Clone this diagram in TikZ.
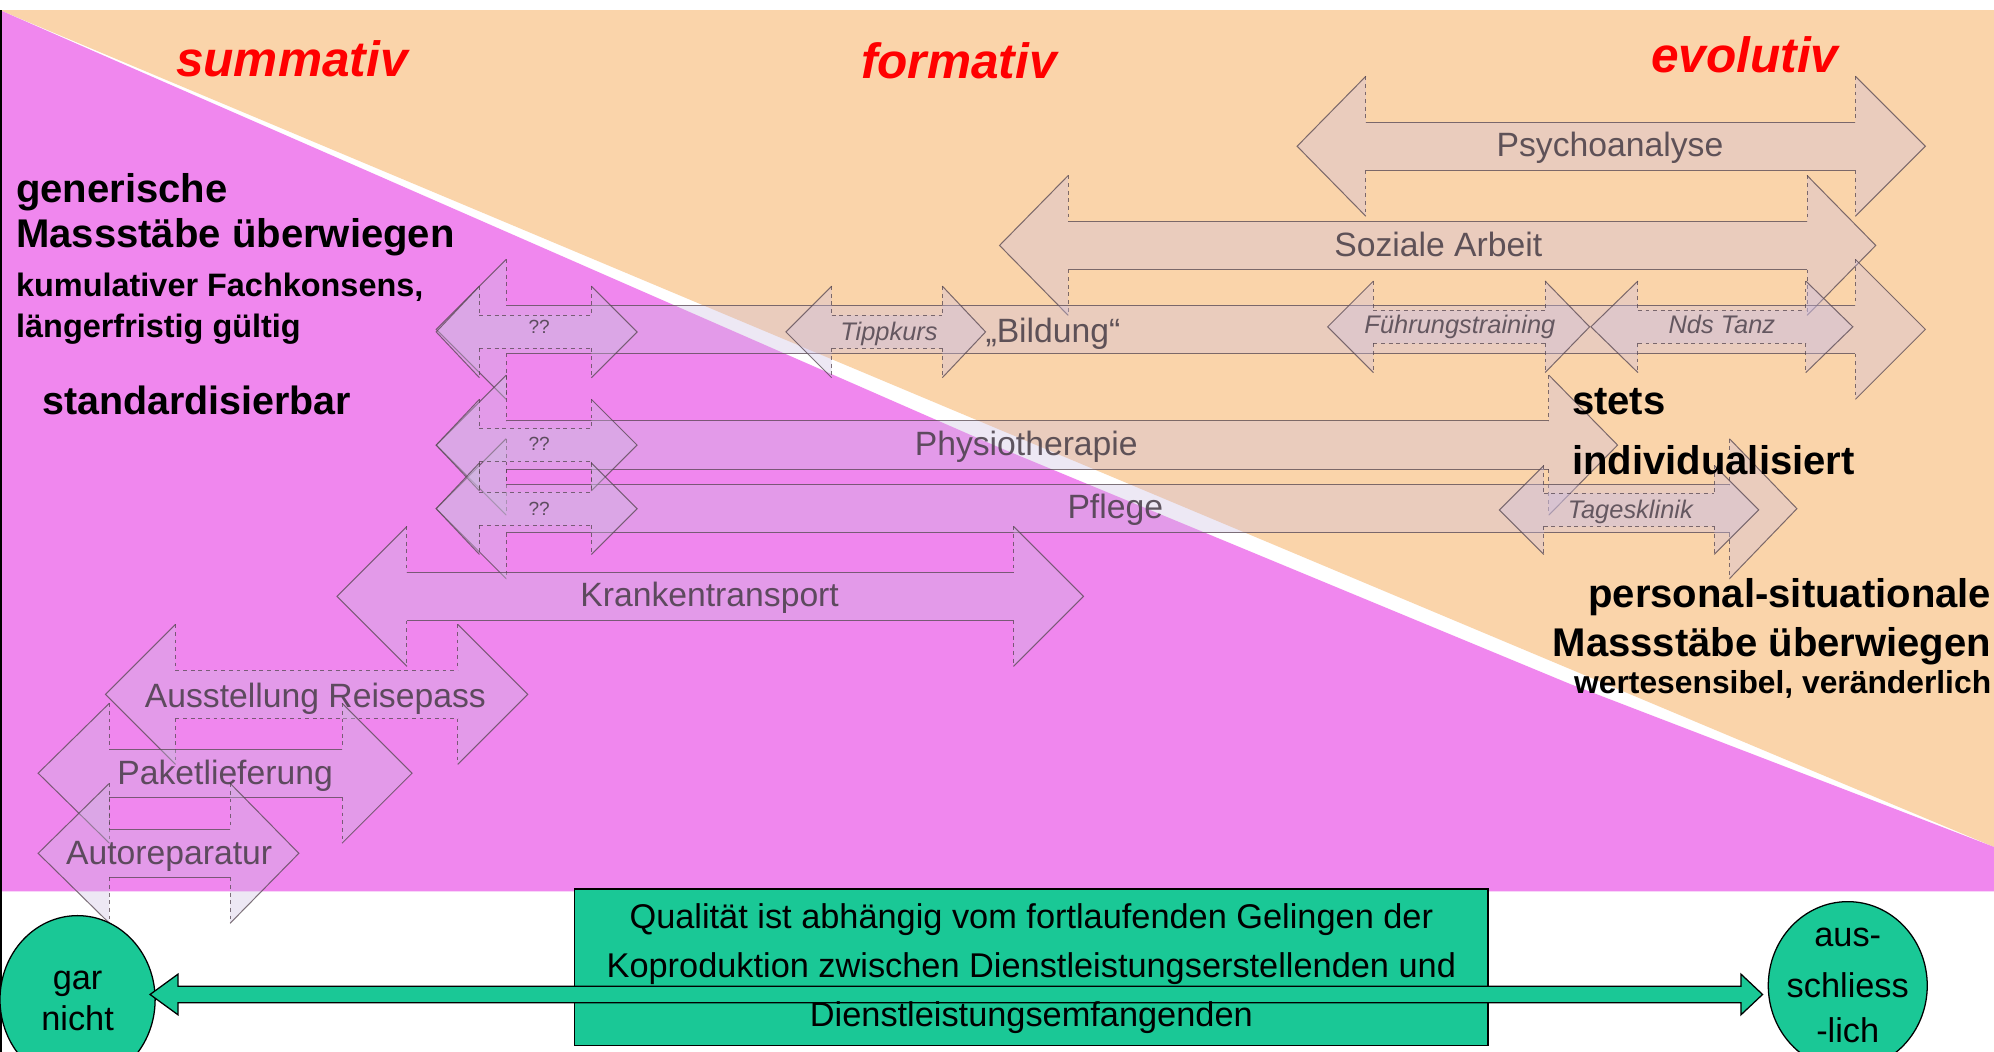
\documentclass[tikz,border=0pt]{standalone}
\usepackage{fontspec}
\setmainfont{Liberation Sans}
\usetikzlibrary{shapes.geometric}
\definecolor{peach}{RGB}{250,212,170}
\definecolor{pinkbg}{RGB}{240,135,238}
\definecolor{afillc}{RGB}{205,190,225}
\definecolor{alinec}{RGB}{85,70,80}
\definecolor{greenbox}{RGB}{26,200,150}
\definecolor{lblc}{RGB}{70,60,70}
% #1 left tip, #2 left head base, #3 right head base, #4 right tip, #5 centre y, #6 head half height, #7 shaft half height, #8 shaft line style
\newcommand\blockarr[8]{%
  \fill[afill] (#1,#5) -- (#2,#5-#6) -- (#2,#5-#7) -- (#3,#5-#7) -- (#3,#5-#6) -- (#4,#5)
     -- (#3,#5+#6) -- (#3,#5+#7) -- (#2,#5+#7) -- (#2,#5+#6) -- cycle;
  \draw[aline] (#2,#5-#6) -- (#1,#5) -- (#2,#5+#6);
  \draw[aline] (#3,#5-#6) -- (#4,#5) -- (#3,#5+#6);
  \draw[aline,#8] (#2,#5-#7) -- (#3,#5-#7) (#2,#5+#7) -- (#3,#5+#7);
  \draw[aline,dashed] (#2,#5-#6) -- (#2,#5-#7) (#2,#5+#7) -- (#2,#5+#6)
     (#3,#5-#6) -- (#3,#5-#7) (#3,#5+#7) -- (#3,#5+#6);
}
\tikzset{
  afill/.style={fill=afillc, fill opacity=0.35},
  aline/.style={draw=alinec, line width=0.8pt, draw opacity=0.75},
  lbl/.style={font=\fontsize{26.5}{30}\selectfont, text=lblc, text opacity=0.85, inner sep=0pt, anchor=base},
  slbl/.style={font=\itshape\fontsize{20}{24}\selectfont, text=lblc, text opacity=0.8, inner sep=0pt, anchor=base},
  qlbl/.style={font=\fontsize{15}{18}\selectfont, text=lblc, text opacity=0.85, inner sep=0pt},
  redt/.style={font=\bfseries\itshape\fontsize{39}{44}\selectfont, text=red, inner sep=0pt, anchor=base},
  bigt/.style={font=\bfseries\fontsize{31.5}{36}\selectfont, inner sep=0pt},
  midt/.style={font=\bfseries\fontsize{25.5}{30}\selectfont, inner sep=0pt},
  btxt/.style={font=\fontsize{27}{30}\selectfont, inner sep=0pt, anchor=base},
  oval/.style={ellipse, draw=black, line width=1pt, fill=greenbox, inner sep=0pt},
}
\begin{document}
\begin{tikzpicture}[x=1pt,y=-1pt]
\useasboundingbox (0,0) rectangle (1568,827);
\clip (0,0) rectangle (1568,827);
\fill[white] (0,0) rectangle (1568,827);
% background
\fill[peach] (0,8) -- (1568,8) -- (1568,666) -- cycle;
\fill[pinkbg] (0,8) -- (786,352) -- (1235,538) -- (1568,666) -- (1568,701) -- (0,701) -- cycle;
\draw[line width=1.5pt] (0.75,8) -- (0.75,827);

% big block arrows
\blockarr{1020}{1074}{1459}{1514}{115}{55}{19}{solid}
\blockarr{786}{840}{1421}{1475}{193}{55}{19}{solid}
\blockarr{343}{398}{1459}{1514}{259}{55}{19}{solid}
\blockarr{618}{654}{741}{775}{261}{36}{13}{dashed}
\blockarr{1044}{1080}{1215}{1250}{257}{36}{13}{dashed}
\blockarr{1251}{1288}{1420}{1457}{257}{36}{13}{dashed}
\blockarr{343}{398}{1218}{1272}{350}{55}{19}{solid}
\blockarr{343}{398}{1360}{1413}{400}{55}{19}{solid}
\blockarr{1179}{1214}{1348}{1383}{401}{35}{13}{dashed}
\blockarr{343}{377}{465}{501}{261}{36}{13}{dashed}
\blockarr{343}{377}{465}{501}{350}{36}{13}{dashed}
\blockarr{343}{377}{465}{501}{400}{36}{13}{dashed}
\blockarr{265}{320}{797}{852}{469}{55}{19}{solid}
\blockarr{83}{138}{360}{415}{546}{55}{19}{dashed}
\blockarr{30}{86}{269}{324}{608}{55}{19}{solid}
\blockarr{30}{86}{181}{235}{671}{55}{19}{solid}

% arrow labels
\node[lbl] (lpsy) at (1266,123) {Psychoanalyse};
\node[lbl] (lsoz) at (1131,202) {Soziale Arbeit};
\node[lbl] (lbil) at (828,269) {„Bildung“};
\node[lbl] (lphy) at (807,358) {Physiotherapie};
\node[lbl] (lpfl) at (877,408) {Pflege};
\node[lbl] (lkra) at (558,477) {Krankentransport};
\node[lbl] (lrei) at (248,556) {Ausstellung Reisepass};
\node[lbl] (lpak) at (177,617) {Paketlieferung};
\node[lbl] (laut) at (133,680) {Autoreparatur};
\node[slbl] (ltip) at (699,267.5) {Tippkurs};
\node[slbl] (lfue) at (1148,262) {Führungstraining};
\node[slbl] (lnds) at (1354,262) {Nds Tanz};
\node[slbl] (ltag) at (1282,407.5) {Tagesklinik};
\node[qlbl] (q1) at (424,257) {??};
\node[qlbl] (q2) at (424,349) {??};
\node[qlbl] (q3) at (424,400) {??};

% headings
\node[redt] (summ) at (229.5,60) {summativ};
\node[redt] (form) at (754,62) {formativ};
\node[redt] (evol) at (1372,57) {evolutiv};

% left texts
\node[bigt, anchor=base west] (gen1) at (12.5,159) {generische};
\node[bigt, anchor=base west] (gen2) at (12.5,195) {Massstäbe überwiegen};
\node[midt, anchor=base west] (gen3) at (12.5,233.5) {kumulativer Fachkonsens,};
\node[midt, anchor=base west] (gen4) at (12.5,265) {längerfristig gültig};
\node[bigt, anchor=base west, font=\bfseries\fontsize{31}{36}\selectfont] (std) at (33,326) {standardisierbar};

% right texts
\node[bigt, anchor=base west] (stets) at (1236,326) {stets};
\node[bigt, anchor=base west] (indiv) at (1236,373.5) {individualisiert};
\node[bigt, anchor=base east] (pers1) at (1566,478) {personal-situationale};
\node[bigt, anchor=base east] (pers2) at (1566,516.5) {Massstäbe überwiegen};
\node[midt, anchor=base east, font=\bfseries\fontsize{25}{30}\selectfont] (pers3) at (1566,545) {wertesensibel, veränderlich};

% bottom
\node[draw=black, line width=1pt, fill=greenbox, minimum width=718pt, minimum height=123pt, inner sep=0pt] (qbox) at (811,760.5) {};
\node[oval, minimum width=122pt, minimum height=132pt] (gar) at (61,786) {};
\node[oval, minimum width=125pt, minimum height=132pt] (aus) at (1453,775) {};
\coordinate (ltip) at (118,782);
\coordinate (rtip) at (1386,782);
\draw[fill=greenbox, line width=1pt] (ltip) -- (140,766) -- (140,775.5) -- (1369,775.5) -- (1369,766) -- (rtip)
   -- (1369,798) -- (1369,788.5) -- (140,788.5) -- (140,798) -- cycle;
\node[btxt] (t1) at (811,730) {Qualität ist abhängig vom fortlaufenden Gelingen der};
\node[btxt] (t2) at (811,769) {Koproduktion zwischen Dienstleistungserstellenden und};
\node[btxt] (t3) at (811,807) {Dienstleistungsemfangenden};
\node[btxt] (gar1) at (61,778) {gar};
\node[btxt] (gar2) at (61,810) {nicht};
\node[btxt] (aus1) at (1453,744.5) {aus-};
\node[btxt] (aus2) at (1453,784) {schliess};
\node[btxt] (aus3) at (1453,820) {-lich};
\end{tikzpicture}
\end{document}
